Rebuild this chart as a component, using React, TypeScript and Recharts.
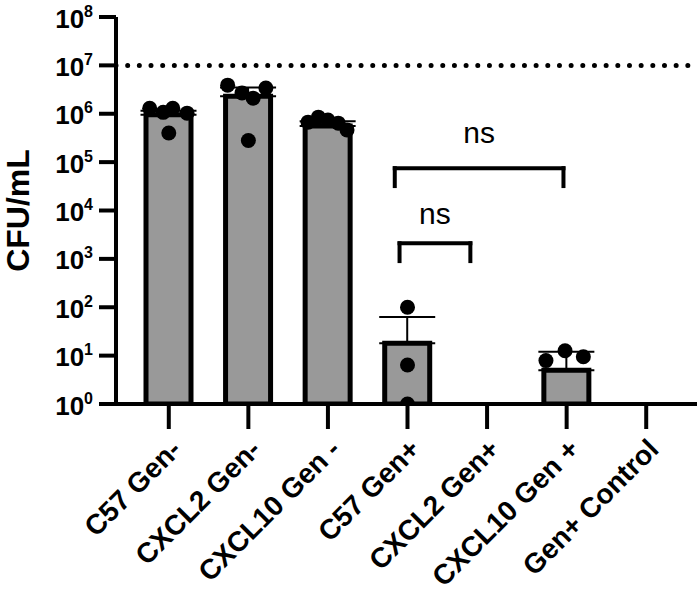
import React from 'react';
import { ComposedChart, Bar, Scatter, XAxis, YAxis, ErrorBar, ReferenceLine } from 'recharts';

const groups = ['C57 Gen-', 'CXCL2 Gen-', 'CXCL10 Gen -', 'C57 Gen+', 'CXCL2 Gen+', 'CXCL10 Gen +', 'Gen+ Control'];
const means = [9.5e5, 2.3e6, 5.6e5, 18, null, 5, null];
const upperSd = [2.0e5, 1.2e6, 1.4e5, 45, null, 7, null];

// individual animals: group index, horizontal spread within the bar, CFU/mL
const pointGroup = [0, 0, 0, 0, 0, 1, 1, 1, 1, 1, 2, 2, 2, 2, 2, 3, 3, 3, 5, 5, 5];
const pointSpread = [-0.24, -0.07, 0.05, 0.23, 0, -0.26, -0.08, 0.06, 0.22, 0, -0.25, -0.12, 0, 0.13, 0.24, 0, 0, 0, -0.26, -0.02, 0.21];
const pointValues = [1.3e6, 1.07e6, 1.3e6, 1.03e6, 4.0e5, 3.9e6, 2.7e6, 2.1e6, 3.4e6, 2.8e5, 6.7e5, 8.5e5, 7.4e5, 6.4e5, 4.6e5, 100, 6.4, 1, 7.9, 12.6, 9.5];

const yTicks = [1, 10, 100, 1e3, 1e4, 1e5, 1e6, 1e7, 1e8];
const detectionLimit = 1e7;

// comparison brackets (x in group units, y in CFU/mL)
const brackets = [
  { from: 2.84, to: 4.96, top: 7.5e4, tip: 3.2e4, text: 'ns', gap: 25 },
  { from: 2.9, to: 3.79, top: 2.1e3, tip: 900, text: 'ns', gap: 19 },
];

const barData = groups.map((name, i) => ({
  name,
  value: means[i],
  err: upperSd[i] == null ? null : [0, upperSd[i]],
}));

const pointData = pointValues.map((v, i) => ({ x: pointGroup[i] + pointSpread[i], y: v }));

const FONT = '"Liberation Sans", Arial, Helvetica, sans-serif';

const LogTick = (props: any) => {
  const x = Number(props.x);
  const y = Number(props.y);
  const exp = Math.round(Math.log10(props.payload.value));
  return (
    <g transform={`translate(${x},${y})`}>
      <text x={0} y={10.5} textAnchor="end" fontFamily={FONT} fontWeight="bold" fill="#000">
        <tspan fontSize={26}>10</tspan>
        <tspan fontSize={16} dy={-11}>{exp}</tspan>
      </text>
    </g>
  );
};

const YTitle = (props: any) => {
  const { viewBox } = props;
  const cx = 18;
  const cy = viewBox.y + viewBox.height / 2;
  return (
    <text
      x={cx}
      y={cy}
      transform={`rotate(-90, ${cx}, ${cy})`}
      textAnchor="middle"
      dominantBaseline="central"
      fontFamily={FONT}
      fontWeight="bold"
      fontSize={32}
      fill="#000"
    >
      CFU/mL
    </text>
  );
};

const Dot = (props: any) => <circle cx={props.cx} cy={props.cy} r={7.5} fill="#000" />;

export default function App() {
  return (
    <div style={{ position: 'absolute', left: 0, top: 0, background: '#fff' }}>
      <ComposedChart width={700} height={591} data={barData} margin={{ top: 17, right: 3, bottom: 0, left: 0 }}>
        <XAxis
          dataKey="name"
          type="category"
          height={187}
          padding={{ left: 13, right: 11 }}
          axisLine={{ stroke: '#000', strokeWidth: 4 }}
          tickLine={{ stroke: '#000', strokeWidth: 4 }}
          tickSize={25}
          tickMargin={8}
          tick={{
            angle: -45,
            textAnchor: 'end',
            verticalAnchor: 'middle',
            fontSize: 28,
            fontWeight: 'bold',
            fontFamily: FONT,
            fill: '#000',
          }}
          interval={0}
        />
        <XAxis
          xAxisId="num"
          dataKey="x"
          type="number"
          domain={[-0.5, 6.5]}
          padding={{ left: 13, right: 11 }}
          allowDataOverflow
          hide
        />
        <YAxis
          type="number"
          scale="log"
          domain={[1, 1e8]}
          ticks={yTicks}
          allowDataOverflow
          width={116}
          axisLine={{ stroke: '#000', strokeWidth: 4 }}
          tickLine={{ stroke: '#000', strokeWidth: 4 }}
          tickSize={17}
          tickMargin={6}
          tick={(p: any) => <LogTick {...p} />}
          interval={0}
          label={<YTitle />}
        />
        <ReferenceLine
          y={detectionLimit}
          stroke="#000"
          strokeWidth={5}
          strokeDasharray="0 11.67"
          strokeLinecap="round"
        />
        <Bar dataKey="value" fill="#999" stroke="#000" strokeWidth={5} barSize={45} isAnimationActive={false}>
          <ErrorBar dataKey="err" width={28} stroke="#000" strokeWidth={2} direction="y" />
        </Bar>
        <Scatter xAxisId="num" data={pointData} dataKey="y" shape={<Dot />} isAnimationActive={false} />
        {brackets.map((b, i) => (
          <ReferenceLine
            key={`top${i}`}
            xAxisId="num"
            segment={[{ x: b.from, y: b.top }, { x: b.to, y: b.top }]}
            stroke="#000"
            strokeWidth={4}
            strokeLinecap="square"
            label={{ value: b.text, position: 'top', offset: b.gap, fontSize: 30, fontFamily: FONT, fill: '#000' }}
          />
        ))}
        {brackets.map((b, i) => (
          <ReferenceLine
            key={`l${i}`}
            xAxisId="num"
            segment={[{ x: b.from, y: b.top }, { x: b.from, y: b.tip }]}
            stroke="#000"
            strokeWidth={4}
            strokeLinecap="square"
          />
        ))}
        {brackets.map((b, i) => (
          <ReferenceLine
            key={`r${i}`}
            xAxisId="num"
            segment={[{ x: b.to, y: b.top }, { x: b.to, y: b.tip }]}
            stroke="#000"
            strokeWidth={4}
            strokeLinecap="square"
          />
        ))}
      </ComposedChart>
    </div>
  );
}
